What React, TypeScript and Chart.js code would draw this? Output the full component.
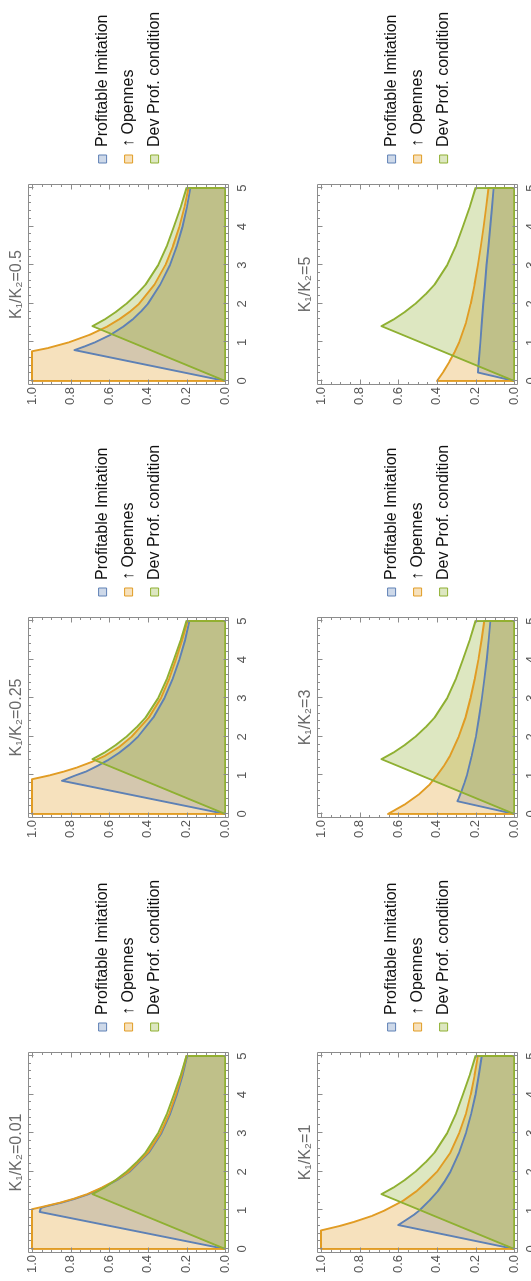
import React, { useEffect, useRef } from 'react';
import { Chart, registerables } from 'chart.js';

Chart.register(...registerables);

// ---------- tick labels / names ----------
const X_TICKS = [0, 1, 2, 3, 4, 5];
const Y_TICKS = [0, 0.2, 0.4, 0.6, 0.8, 1.0];
const SERIES_NAMES = ['Profitable Imitation', '\u2191 Opennes', 'Dev Prof. condition'];
const PANEL_TITLES = ['K\u2081/K\u2082=0.01', 'K\u2081/K\u2082=0.25', 'K\u2081/K\u2082=0.5', 'K\u2081/K\u2082=1', 'K\u2081/K\u2082=3', 'K\u2081/K\u2082=5'];

// ---------- Dev Prof. condition (same in every panel) ----------
const DEV_X = [0, 1.42, 1.6, 1.8, 2, 2.25, 2.5, 3, 3.5, 4, 4.5, 5, 5];
const DEV_Y = [0, 0.687, 0.622, 0.563, 0.512, 0.458, 0.412, 0.347, 0.302, 0.266, 0.231, 0.2, 0];
const BASE_X = [0, 5];
const BASE_Y = [0, 0];

// ---------- K1/K2 = 0.01 ----------
const OPEN_001_X = [0, 0, 1.03, 1.1, 1.2, 1.3, 1.42, 1.6, 1.8, 2, 2.5, 3, 3.5, 4, 4.5, 5, 5];
const OPEN_001_Y = [0, 1, 1, 0.94, 0.855, 0.785, 0.715, 0.635, 0.56, 0.5, 0.4, 0.335, 0.29, 0.255, 0.225, 0.2, 0];
const IMIT_001_X = [0, 0.96, 1.06, 1.1, 1.2, 1.3, 1.42, 1.6, 1.8, 2, 2.5, 3, 3.5, 4, 4.5, 5, 5];
const IMIT_001_Y = [0, 0.96, 0.955, 0.93, 0.848, 0.778, 0.708, 0.628, 0.555, 0.495, 0.395, 0.33, 0.285, 0.25, 0.221, 0.197, 0];

// ---------- K1/K2 = 0.25 ----------
const OPEN_025_X = [0, 0, 0.9, 1, 1.1, 1.2, 1.35, 1.5, 1.75, 2, 2.5, 3, 3.5, 4, 4.5, 5, 5];
const OPEN_025_Y = [0, 1, 1, 0.91, 0.835, 0.77, 0.69, 0.625, 0.545, 0.485, 0.395, 0.333, 0.29, 0.255, 0.223, 0.195, 0];
const IMIT_025_X = [0, 0.86, 0.95, 1, 1.1, 1.25, 1.4, 1.6, 1.8, 2, 2.5, 3, 3.5, 4, 4.5, 5, 5];
const IMIT_025_Y = [0, 0.845, 0.8, 0.775, 0.72, 0.66, 0.605, 0.545, 0.495, 0.452, 0.372, 0.315, 0.272, 0.237, 0.208, 0.185, 0];

// ---------- K1/K2 = 0.5 ----------
const OPEN_05_X = [0, 0, 0.77, 0.85, 1, 1.2, 1.4, 1.6, 1.8, 2, 2.5, 3, 3.5, 4, 4.5, 5, 5];
const OPEN_05_Y = [0, 1, 1, 0.92, 0.81, 0.7, 0.615, 0.548, 0.492, 0.446, 0.366, 0.31, 0.27, 0.237, 0.211, 0.19, 0];
const IMIT_05_X = [0, 0.8, 0.9, 1, 1.2, 1.4, 1.6, 1.8, 2, 2.5, 3, 3.5, 4, 4.5, 5, 5];
const IMIT_05_Y = [0, 0.78, 0.725, 0.675, 0.592, 0.53, 0.478, 0.436, 0.4, 0.336, 0.286, 0.25, 0.221, 0.198, 0.18, 0];

// ---------- K1/K2 = 1 ----------
const OPEN_1_X = [0, 0, 0.48, 0.6, 0.7, 0.85, 1, 1.25, 1.5, 1.75, 2, 2.5, 3, 3.5, 4, 4.5, 5, 5];
const OPEN_1_Y = [0, 1, 1, 0.9, 0.83, 0.74, 0.67, 0.575, 0.505, 0.45, 0.4, 0.33, 0.285, 0.25, 0.225, 0.205, 0.188, 0];
const IMIT_1_X = [0, 0.62, 0.75, 0.9, 1, 1.25, 1.5, 1.75, 2, 2.5, 3, 3.5, 4, 4.5, 5, 5];
const IMIT_1_Y = [0, 0.6, 0.56, 0.515, 0.49, 0.44, 0.395, 0.36, 0.33, 0.285, 0.25, 0.223, 0.2, 0.183, 0.168, 0];

// ---------- K1/K2 = 3 ----------
const OPEN_3_X = [0, 0, 0.25, 0.5, 0.75, 1, 1.25, 1.5, 2, 2.5, 3, 3.5, 4, 4.5, 5, 5];
const OPEN_3_Y = [0, 0.653, 0.565, 0.495, 0.44, 0.4, 0.363, 0.333, 0.288, 0.252, 0.226, 0.204, 0.185, 0.169, 0.155, 0];
const IMIT_3_X = [0, 0.33, 0.4, 0.6, 0.8, 1, 1.5, 2, 2.5, 3, 3.5, 4, 4.5, 5, 5];
const IMIT_3_Y = [0, 0.294, 0.288, 0.272, 0.258, 0.245, 0.22, 0.198, 0.182, 0.167, 0.154, 0.142, 0.132, 0.123, 0];

// ---------- K1/K2 = 5 ----------
const OPEN_5_X = [0, 0, 0.25, 0.5, 0.75, 1, 1.5, 2, 2.5, 3, 3.5, 4, 4.5, 5, 5];
const OPEN_5_Y = [0, 0.4, 0.365, 0.335, 0.308, 0.285, 0.25, 0.225, 0.205, 0.188, 0.172, 0.158, 0.145, 0.133, 0];
const IMIT_5_X = [0, 0.22, 0.5, 1, 1.5, 2, 2.5, 3, 3.5, 4, 4.5, 5, 5];
const IMIT_5_Y = [0, 0.188, 0.183, 0.175, 0.168, 0.16, 0.151, 0.143, 0.133, 0.124, 0.115, 0.106, 0];

// ---------- styling ----------
const FONT = "'Liberation Sans', Arial, 'DejaVu Sans', sans-serif";
const BLUE = '#5E81B5';
const ORANGE = '#E19C24';
const GREEN = '#8FB032';
const BLUE_FILL = 'rgba(94,129,181,0.3)';
const ORANGE_FILL = 'rgba(225,156,36,0.3)';
const GREEN_FILL = 'rgba(143,176,50,0.3)';
const FRAME_COLOR = '#8c8c8c';
const LABEL_COLOR = '#555555';
const LINE_W = 1.9;
const LEGEND_FONT_SIZE = 16;
const LEGEND_BOX = 8;
const LEGEND_PAD = 10;

const toPts = (xs: number[], ys: number[]) => xs.map((x, i) => ({ x, y: ys[i] }));

const PANELS = [
  { title: PANEL_TITLES[0], ix: IMIT_001_X, iy: IMIT_001_Y, ox: OPEN_001_X, oy: OPEN_001_Y, left: 0, top: 0, width: 435 },
  { title: PANEL_TITLES[1], ix: IMIT_025_X, iy: IMIT_025_Y, ox: OPEN_025_X, oy: OPEN_025_Y, left: 435, top: 0, width: 433 },
  { title: PANEL_TITLES[2], ix: IMIT_05_X, iy: IMIT_05_Y, ox: OPEN_05_X, oy: OPEN_05_Y, left: 868, top: 0, width: 413 },
  { title: PANEL_TITLES[3], ix: IMIT_1_X, iy: IMIT_1_Y, ox: OPEN_1_X, oy: OPEN_1_Y, left: 0, top: 289, width: 435 },
  { title: PANEL_TITLES[4], ix: IMIT_3_X, iy: IMIT_3_Y, ox: OPEN_3_X, oy: OPEN_3_Y, left: 435, top: 289, width: 433 },
  { title: PANEL_TITLES[5], ix: IMIT_5_X, iy: IMIT_5_Y, ox: OPEN_5_X, oy: OPEN_5_Y, left: 868, top: 289, width: 413 },
];

const CANVAS_H = 265;
const Y_AXIS_W = 28;
const PLOT_W = 201;
const GAP_W = 11;

const framePlugin = {
  id: 'frameTicks',
  afterDatasetsDraw(chart: any) {
    const { ctx, chartArea: a, scales } = chart;
    const xs = scales.x;
    const ys = scales.y;
    ctx.save();
    ctx.strokeStyle = FRAME_COLOR;
    ctx.lineWidth = 1;
    const L = Math.round(a.left) + 0.5;
    const R = Math.round(a.right) - 0.5;
    const T = Math.round(a.top) + 0.5;
    const B = Math.round(a.bottom) - 0.5;
    ctx.beginPath();
    ctx.rect(L, T, R - L, B - T);
    ctx.stroke();
    ctx.beginPath();
    for (let i = 0; i <= 25; i++) {
      const major = i % 5 === 0;
      const len = major ? 5 : 2.5;
      const px = Math.round(xs.getPixelForValue(i * 0.2)) + 0.5;
      ctx.moveTo(px, B);
      ctx.lineTo(px, B - len);
      ctx.moveTo(px, T);
      ctx.lineTo(px, T + len);
    }
    for (let i = 0; i <= 20; i++) {
      const major = i % 4 === 0;
      const len = major ? 5 : 2.5;
      const py = Math.round(ys.getPixelForValue(i * 0.05)) + 0.5;
      ctx.moveTo(L, py);
      ctx.lineTo(L + len, py);
      ctx.moveTo(R, py);
      ctx.lineTo(R - len, py);
    }
    ctx.stroke();
    ctx.restore();
  },
};

function legendWidth(): number {
  const c = document.createElement('canvas').getContext('2d') as CanvasRenderingContext2D;
  c.font = `${LEGEND_FONT_SIZE}px ${FONT}`;
  let w = 0;
  SERIES_NAMES.forEach((s) => {
    w = Math.max(w, c.measureText(s).width);
  });
  return Math.floor(LEGEND_PAD + LEGEND_BOX + LEGEND_FONT_SIZE / 2 + w);
}

function Panel(p: any) {
  const ref = useRef<HTMLCanvasElement | null>(null);
  useEffect(() => {
    if (!ref.current) return;
    const legW = legendWidth();
    const padRight = Math.max(0, p.width - Y_AXIS_W - PLOT_W - GAP_W - legW);
    const mk = (label: string, xs: number[], ys: number[], color: string, fillColor: string, order: number, fill: any) => ({
      label,
      data: toPts(xs, ys),
      borderColor: color,
      backgroundColor: fillColor,
      borderWidth: LINE_W,
      fill,
      pointRadius: 0,
      order,
    });
    const chart = new Chart(ref.current, {
      type: 'line',
      data: {
        datasets: [
          mk(SERIES_NAMES[0], p.ix, p.iy, BLUE, BLUE_FILL, 3, 'origin'),
          mk(SERIES_NAMES[1], p.ox, p.oy, ORANGE, ORANGE_FILL, 2, 'origin'),
          mk(SERIES_NAMES[2], DEV_X, DEV_Y, GREEN, GREEN_FILL, 1, 'origin'),
          mk('base', BASE_X, BASE_Y, GREEN, GREEN_FILL, 0, false),
        ] as any,
      },
      options: {
        responsive: false,
        animation: false,
        devicePixelRatio: 1,
        events: [],
        layout: { padding: { left: 0, top: 0, right: padRight, bottom: 0 } },
        elements: { line: { tension: 0, borderJoinStyle: 'round' } },
        plugins: {
          filler: { drawTime: 'beforeDatasetsDraw' },
          title: {
            display: true,
            text: p.title,
            fullSize: false,
            color: '#6a6a6a',
            font: { family: FONT, size: 16, weight: 'normal' },
            padding: { top: 7, bottom: 2 },
          },
          legend: {
            display: true,
            position: 'right',
            align: 'center',
            fullSize: false,
            maxWidth: legW,
            labels: {
              boxWidth: LEGEND_BOX,
              boxHeight: LEGEND_BOX,
              padding: LEGEND_PAD,
              color: '#111',
              font: { family: FONT, size: LEGEND_FONT_SIZE },
              filter: (item: any) => item.datasetIndex < 3,
              sort: (a: any, b: any) => a.datasetIndex - b.datasetIndex,
              generateLabels: (c: any) =>
                (Chart.defaults.plugins.legend.labels.generateLabels as any)(c).map((l: any) => ({ ...l, lineWidth: 1 })),
            },
          },
          tooltip: { enabled: false },
        },
        scales: {
          x: {
            type: 'linear',
            min: -0.105,
            max: 5.105,
            afterBuildTicks: (s: any) => {
              s.ticks = X_TICKS.map((v) => ({ value: v }));
            },
            afterFit: (s: any) => {
              s.height = 36;
            },
            grid: { display: false, drawTicks: false },
            border: { display: false },
            ticks: {
              autoSkip: false,
              maxRotation: 0,
              padding: 6,
              color: LABEL_COLOR,
              font: { family: FONT, size: 13 },
              callback: (v: any) => String(v),
            },
          },
          y: {
            type: 'linear',
            min: -0.02,
            max: 1.02,
            afterBuildTicks: (s: any) => {
              s.ticks = Y_TICKS.map((v) => ({ value: v }));
            },
            afterFit: (s: any) => {
              s.width = Y_AXIS_W;
            },
            grid: { display: false, drawTicks: false },
            border: { display: false },
            ticks: {
              autoSkip: false,
              padding: 2,
              color: LABEL_COLOR,
              font: { family: FONT, size: 13 },
              callback: (v: any) => Number(v).toFixed(1),
            },
          },
          y2: {
            type: 'linear',
            position: 'right',
            display: true,
            grid: { display: false, drawTicks: false },
            border: { display: false },
            ticks: { display: false },
            afterFit: (s: any) => {
              s.width = GAP_W;
            },
          },
        },
      } as any,
      plugins: [framePlugin as any],
    });
    return () => chart.destroy();
  }, []);
  return (
    <canvas
      ref={ref}
      width={p.width}
      height={CANVAS_H}
      style={{ position: 'absolute', left: p.left, top: p.top, width: p.width, height: CANVAS_H }}
    />
  );
}

export default function App() {
  return (
    <div
      style={{
        position: 'fixed',
        left: 0,
        top: 0,
        width: 1281,
        height: 531,
        overflow: 'hidden',
        background: '#ffffff',
        transformOrigin: '0 0',
        transform: 'translateY(1281px) rotate(-90deg)',
      }}
    >
      {PANELS.map((p, i) => (
        <Panel key={i} {...p} />
      ))}
    </div>
  );
}
